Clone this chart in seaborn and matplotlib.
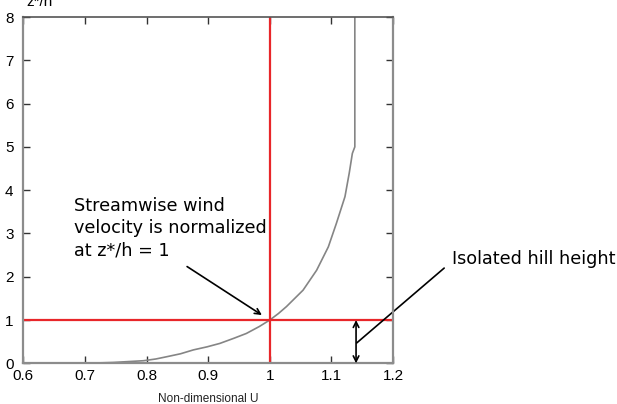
import pandas as pd
import seaborn as sns
import matplotlib.pyplot as plt

# values
u_profile = [0.70, 0.746, 0.795, 0.815, 0.832, 0.855, 0.876, 0.898, 0.919, 0.942,
             0.962, 0.983, 1.0, 1.014, 1.027, 1.054, 1.076, 1.095, 1.108, 1.122,
             1.129, 1.134, 1.138, 1.138]
z_profile = [0.0, 0.02, 0.06, 0.10, 0.15, 0.22, 0.31, 0.38, 0.46, 0.58,
             0.69, 0.85, 1.0, 1.15, 1.31, 1.69, 2.15, 2.69, 3.23, 3.85,
             4.40, 4.85, 5.0, 8.0]
u_ref = 1.0
z_ref = 1.0
hill_x = 1.14
x_ticks = [0.6, 0.7, 0.8, 0.9, 1.0, 1.1, 1.2]
x_labels = ['0.6', '0.7', '0.8', '0.9', '1', '1.1', '1.2']
y_ticks = [0, 1, 2, 3, 4, 5, 6, 7, 8]

df = pd.DataFrame({'U': u_profile, 'z': z_profile})

sns.set_style('ticks')
plt.rcParams['font.family'] = ['Liberation Sans', 'DejaVu Sans']
plt.rcParams['text.color'] = 'black'

fig = plt.figure(figsize=(6.17, 4.04), dpi=100)
ax = fig.add_axes([0.0378, 0.1007, 0.5992, 0.8572])

sns.lineplot(data=df, x='U', y='z', sort=False, estimator=None,
             color='#858585', lw=1.2, ax=ax)
ax.axvline(u_ref, color='#e8262a', lw=1.6)
ax.axhline(z_ref, color='#e8262a', lw=1.6)

ax.set_xlim(0.6, 1.2)
ax.set_ylim(0, 8)
ax.set_xticks(x_ticks)
ax.set_xticklabels(x_labels)
ax.set_yticks(y_ticks)
ax.tick_params(direction='in', length=5, width=1, color='#333333',
               top=True, right=True, labelsize=11, pad=4, labelcolor='black')
ax.tick_params(axis='y', pad=7)
for s in ['left', 'bottom', 'right']:
    ax.spines[s].set_color('#8c8c8c')
    ax.spines[s].set_linewidth(1.6)
ax.spines['top'].set_color('#555555')
ax.spines['top'].set_linewidth(1.2)

ax.set_xlabel('Non-dimensional U', fontsize=8.5, labelpad=7, color='#222222')
ax.set_ylabel('')
fig.text(0.043, 0.994, 'z*/h', fontsize=11, va='center', ha='left')

# annotations
ax.text(0.683, 3.12, 'Streamwise wind\nvelocity is normalized\nat z*/h = 1',
        family='DejaVu Sans', fontsize=12.7, va='center', ha='left', linespacing=1.3)
ax.annotate('', xy=(0.991, 1.08), xytext=(0.862, 2.27),
            arrowprops=dict(arrowstyle='->', color='black', lw=1.2))
ax.text(1.295, 2.41, 'Isolated hill height', family='DejaVu Sans', fontsize=12.7,
        va='center', ha='left', clip_on=False)
ax.annotate('', xy=(hill_x, 0.0), xytext=(hill_x, 1.0),
            arrowprops=dict(arrowstyle='<->', color='black', lw=1.2,
                            shrinkA=0, shrinkB=0))
ax.plot([1.141, 1.283], [0.47, 2.20], color='black', lw=1.2, clip_on=False)

plt.savefig('out.png', dpi=100)
